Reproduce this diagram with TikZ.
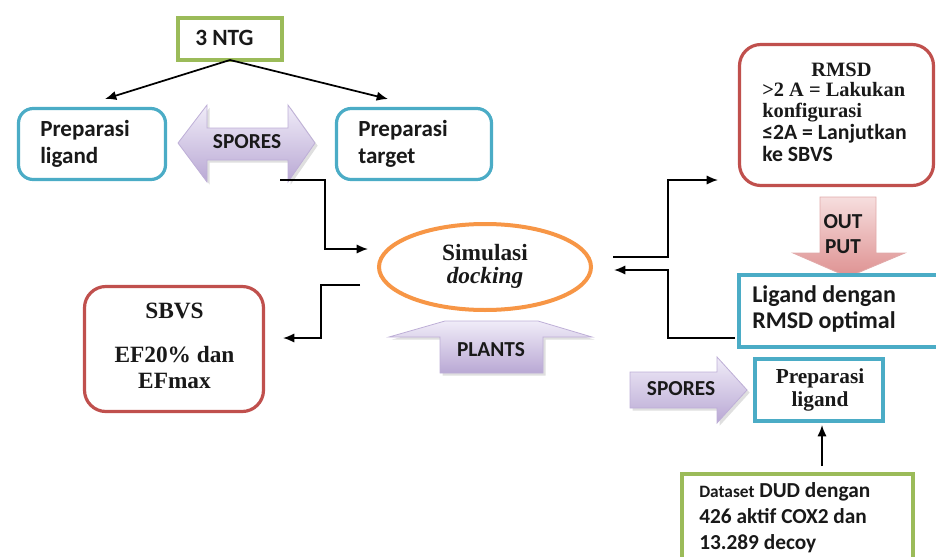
\documentclass[tikz,border=0pt]{standalone}
\usepackage{fontspec}
\setmainfont{Liberation Serif}
\setsansfont{Carlito}
\usetikzlibrary{arrows.meta,shapes.geometric,shadows}
\definecolor{cgreen}{HTML}{9BBB59}
\definecolor{cblue}{HTML}{4BACC6}
\definecolor{cred}{HTML}{C0504D}
\definecolor{corange}{HTML}{F79646}
\definecolor{lavtop}{RGB}{240,236,248}
\definecolor{lavbot}{RGB}{185,168,212}
\definecolor{lavedge}{RGB}{190,175,215}
\definecolor{pinktop}{RGB}{246,222,222}
\definecolor{pinkbot}{RGB}{222,145,145}
\definecolor{pinkedge}{RGB}{225,170,170}
\definecolor{txt}{RGB}{25,25,25}
\begin{document}
\begin{tikzpicture}[x=0.75pt,y=-0.75pt,
  sfb/.style={font=\sffamily\bfseries\fontsize{#1}{#1}\selectfont, inner sep=0pt, text=txt},
  rmb/.style={font=\rmfamily\bfseries\fontsize{#1}{#1}\selectfont, inner sep=0pt, text=txt},
  boxbase/.style={draw, inner sep=0pt, outer sep=0pt, fill=white},
  greenbox/.style={boxbase, draw=cgreen, line width=3pt},
  bluebox/.style={boxbase, draw=cblue, line width=2.4pt},
  redbox/.style={boxbase, draw=cred, line width=2.4pt, rounded corners=16pt},
  arr/.style={-{Latex[length=8.5pt,width=7pt]}, line width=1.3pt, draw=black},
  lav/.style={top color=lavtop, bottom color=lavbot, draw=lavedge, line width=0.6pt,
    drop shadow={opacity=0.25, shadow xshift=2pt, shadow yshift=-2pt}},
  pinkarrow/.style={top color=pinktop, bottom color=pinkbot, draw=pinkedge, line width=0.6pt}
]
\useasboundingbox (0,0) rectangle (936,557);
\clip (0,0) rectangle (936,557);

% ---- top: 3 NTG and preparation boxes
\node[greenbox, minimum width=78pt, minimum height=31.5pt] (ntg) at (230,39) {};
\node[sfb=17.5, anchor=base west] (tntg) at (195,45) {3 NTG};

\node[bluebox, rounded corners=11pt, minimum width=110.25pt, minimum height=53.25pt] (pl) at (92,144) {};
\node[sfb=17.3, anchor=base west] (tpl1) at (40,136) {Preparasi};
\node[sfb=17.3, anchor=base west] (tpl2) at (40,163) {ligand};

\node[bluebox, rounded corners=11pt, minimum width=116.25pt, minimum height=53.25pt] (pt) at (414,144) {};
\node[sfb=17.3, anchor=base west] (tpt1) at (358,136) {Preparasi};
\node[sfb=17.3, anchor=base west] (tpt2) at (358,163) {target};

\coordinate (n1) at (105,99);
\coordinate (n2) at (388,99);
\draw[arr] (ntg.south) -- (n1);
\draw[arr] (ntg.south) -- (n2);

% SPORES double arrow
\path[lav] (178,143) -- (207,105) -- (207,128) -- (288,128) -- (288,105) -- (315,143)
  -- (288,182) -- (288,160) -- (207,160) -- (207,182) -- cycle;
\node[sfb=16, anchor=base] (tsp) at (247,148) {SPORES};

% ---- docking ellipse
\node[ellipse, draw=corange, line width=3pt, fill=white, minimum width=159pt, minimum height=64.5pt, inner sep=0pt] (sim) at (485,267) {};
\node[rmb=17.5, anchor=base] (ts1) at (485,260) {Simulasi};
\node[rmb=17.5, anchor=base] (ts2) at (485,283) {\itshape docking};

\coordinate (c1) at (280,180);
\coordinate (cb) at (325,249);
\coordinate (c2) at (368,249);
\draw[arr] (c1) -| (cb) -- (c2);

% PLANTS arrow
\path[lav] (440,373) -- (440,337) -- (389,337) -- (445,321) -- (538,321) -- (592,337)
  -- (543,337) -- (543,373) -- cycle;
\node[sfb=16, anchor=base] (tplants) at (491,356) {PLANTS};

% ---- SBVS
\node[redbox, minimum width=134.25pt, minimum height=93.75pt] (sb) at (174,349) {};
\node[rmb=17.5, anchor=base] (tsb1) at (174.5,318) {SBVS};
\node[rmb=17.5, anchor=base] (tsb2) at (174.5,362) {EF20\% dan};
\node[rmb=17.5, anchor=base] (tsb3) at (174.5,388) {EFmax};

\coordinate (d1) at (360,285);
\coordinate (db) at (321,338);
\coordinate (d2) at (283,338);
\draw[arr] (d1) -| (db) -- (d2);

% ---- RMSD box
\node[redbox, minimum width=145.5pt, minimum height=105.75pt] (rmsd) at (836.5,115) {};
\node[rmb=15.3, anchor=base] (tr1) at (841.5,76) {RMSD};
\node[rmb=15.3, anchor=base west] (tr2) at (762,96) {>2 A = Lakukan};
\node[rmb=15.3, anchor=base west] (tr3) at (762,117) {konfigurasi};
\node[sfb=16.3, anchor=base west] (tr4) at (762,139) {≤2A = Lanjutkan};
\node[sfb=16.3, anchor=base west] (tr5) at (762,161) {ke SBVS};

\coordinate (e1) at (613,257);
\coordinate (eb) at (668,180);
\coordinate (e2) at (718,180);
\draw[arr] (e1) -| (eb) -- (e2);

% OUTPUT arrow
\path[pinkarrow] (820,197) -- (876,197) -- (876,253) -- (905,253) -- (848,277) -- (793,253)
  -- (820,253) -- cycle;
\node[sfb=16, anchor=base] (tout1) at (843,228) {OUT};
\node[sfb=16, anchor=base] (tout2) at (843,253) {PUT};

% ---- Ligand with optimal RMSD
\node[bluebox, line width=3pt, minimum width=165.75pt, minimum height=54pt] (lr) at (849.5,310.5) {};
\node[sfb=18, anchor=base west] (tlr1) at (752,302) {Ligand dengan};
\node[sfb=18, anchor=base west] (tlr2) at (752,328) {RMSD optimal};

\coordinate (f1) at (735,338);
\coordinate (fb) at (668,270);
\coordinate (f2) at (614,270);
\draw[arr] (f1) -| (fb) -- (f2);

% ---- bottom right
\path[lav] (630,372) -- (717,372) -- (717,357) -- (747,390) -- (717,423) -- (717,408)
  -- (630,408) -- cycle;
\node[sfb=16, anchor=base] (tsp2) at (681,395) {SPORES};

\node[bluebox, line width=3pt, minimum width=96pt, minimum height=46.5pt] (bl) at (819,390) {};
\node[rmb=16, anchor=base] (tbl1) at (820,383) {Preparasi};
\node[rmb=16, anchor=base] (tbl2) at (820,406) {ligand};

\node[greenbox, minimum width=173.25pt, minimum height=93pt] (ds) at (797.5,536) {};
\node[sfb=16, anchor=base west] (tds1) at (699,497) {{\fontsize{13}{13}\selectfont Dataset} DUD dengan};
\node[sfb=16, anchor=base west] (tds2) at (699,523) {426 aktif COX2 dan};
\node[sfb=16, anchor=base west] (tds3) at (699,549) {13.289 decoy};

\coordinate (g1) at (822,466);
\coordinate (g2) at (822,425);
\draw[arr] (g1) -- (g2);
\end{tikzpicture}
\end{document}
